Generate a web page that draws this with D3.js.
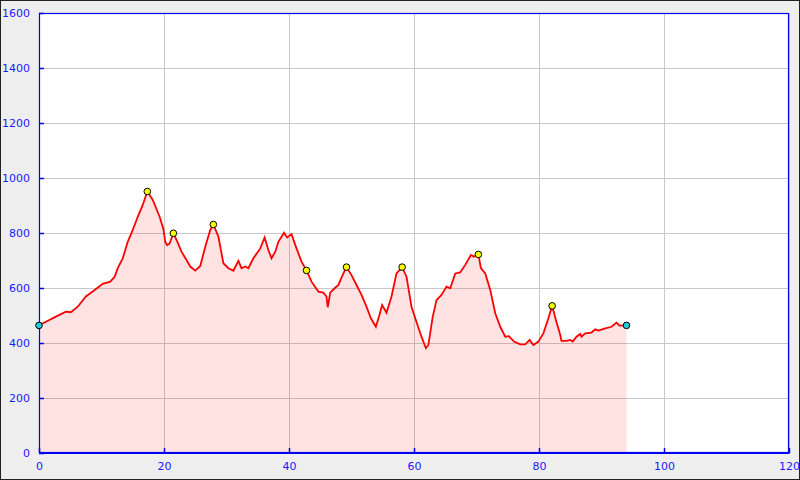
<!DOCTYPE html>
<html><head><meta charset="utf-8">
<script src="https://cdn.jsdelivr.net/npm/d3@7"></script>
<style>html,body{margin:0;padding:0;background:#eeeeee;}svg{display:block;}</style>
</head><body>
<svg id="c" width="800" height="480"></svg>
<script>
const distKm = [0,1.1,2.7,4.3,5.1,6.2,7.5,8.9,10.2,11.4,12.1,12.6,13.4,14.2,15.0,15.8,16.6,17.33,18.2,19.3,19.9,20.2,20.5,20.9,21.5,22.0,22.8,23.6,24.2,25.0,25.8,26.6,27.4,27.9,28.7,29.5,30.3,31.1,31.9,32.4,33.0,33.5,34.3,35.4,36.1,36.7,37.2,37.8,38.3,39.2,39.7,40.4,41.2,42.0,42.8,43.6,44.7,45.5,46.0,46.2,46.6,47.3,47.9,48.7,49.2,50.0,50.8,51.6,52.4,53.1,53.9,54.4,54.9,55.6,56.4,57.2,58.1,58.8,59.6,60.2,61.2,61.9,62.3,63.0,63.6,64.4,65.2,65.8,66.6,67.4,68.2,69.1,69.6,70.3,70.7,71.4,72.2,73.0,73.8,74.6,75.2,76.0,77.0,77.8,78.5,79.1,79.9,80.7,81.5,82.1,82.7,83.4,83.6,84.4,85.0,85.4,86.0,86.6,86.8,87.4,88.4,89.0,89.5,90.6,91.6,92.4,92.9,94.0];
const elevM = [464,477,496,514,512,532,569,593,615,623,641,672,708,768,811,859,902,951,920,859,815,768,756,762,799,775,732,702,678,663,680,750,811,831,787,690,672,663,699,672,678,672,708,744,784,738,708,732,768,801,784,796,744,696,664,623,587,583,569,530,583,599,611,653,676,647,611,575,532,490,459,496,538,510,569,653,676,641,532,490,423,381,393,496,556,575,605,599,653,657,684,720,714,722,672,653,593,508,459,423,425,405,395,395,411,393,405,435,490,535,484,429,408,408,411,405,423,433,423,435,438,450,445,453,459,474,463,464];
const summitKm = [17.33,21.5,27.9,42.8,49.2,58.1,70.3,82.1];
const summitM = [951,799,831,664,676,676,722,535];
const endKm = [0,94.0];
const endM = [464,464];
const xTicks = [0,20,40,60,80,100,120];
const yTicks = [0,200,400,600,800,1000,1200,1400,1600];

const svg = d3.select("#c");
const L=39,R=789,T=13,B=453;
svg.append("rect").attr("x",0.5).attr("y",0.5).attr("width",799).attr("height",479).attr("fill","#eeeeee").attr("stroke","#222").attr("stroke-width",1);
svg.append("rect").attr("x",L).attr("y",T).attr("width",R-L).attr("height",B-T).attr("fill","#ffffff");

const x = d3.scaleLinear().domain([0,120]).range([L,R]);
const y = d3.scaleLinear().domain([0,1600]).range([B,T]);

// grid
svg.append("g").selectAll("line").data(xTicks).join("line")
  .attr("x1",d=>Math.round(x(d))+0.5).attr("x2",d=>Math.round(x(d))+0.5).attr("y1",T).attr("y2",B)
  .attr("stroke","#c8c8c8").attr("stroke-width",1);
svg.append("g").selectAll("line").data(yTicks).join("line")
  .attr("y1",d=>Math.round(y(d))+0.5).attr("y2",d=>Math.round(y(d))+0.5).attr("x1",L).attr("x2",R)
  .attr("stroke","#c8c8c8").attr("stroke-width",1);

const pts = distKm.map((d,i)=>[d,elevM[i]]);
svg.append("path").datum(pts)
  .attr("d", d3.area().x(d=>x(d[0])).y0(y(0)).y1(d=>y(d[1])))
  .attr("fill","rgba(255,0,0,0.11)");
svg.append("path").datum(pts)
  .attr("d", d3.line().x(d=>x(d[0])).y(d=>y(d[1])))
  .attr("fill","none").attr("stroke","#ff0000").attr("stroke-width",1.8).attr("stroke-linejoin","miter");

// frame
svg.append("rect").attr("x",L+0.5).attr("y",T+0.5).attr("width",R-L-1).attr("height",B-T-1)
  .attr("fill","none").attr("stroke","#0000ee").attr("stroke-width",1.2);

// axes
const fmt = d3.format("d");
const ax = svg.append("g").attr("transform",`translate(0,${B})`)
  .call(d3.axisBottom(x).tickValues(xTicks).tickFormat(fmt).tickSizeInner(-5).tickSizeOuter(0).tickPadding(9));
const ay = svg.append("g").attr("transform",`translate(${L},0)`)
  .call(d3.axisLeft(y).tickValues(yTicks).tickFormat(fmt).tickSizeInner(-5).tickSizeOuter(0).tickPadding(9));
[ax,ay].forEach(g=>{
  g.select(".domain").attr("stroke","#0000ee");
  g.selectAll(".tick line").attr("stroke","#0000ee").attr("stroke-width",1.5);
  g.selectAll(".tick text").attr("fill","#1a1aff").attr("font-family","DejaVu Sans").attr("font-size",11);
});

// markers
svg.append("g").selectAll("circle").data(summitKm).join("circle")
  .attr("cx",d=>x(d)).attr("cy",(d,i)=>y(summitM[i])).attr("r",3.3)
  .attr("fill","#ffff00").attr("stroke","#000").attr("stroke-width",1);
svg.append("g").selectAll("circle").data(endKm).join("circle")
  .attr("cx",d=>x(d)).attr("cy",(d,i)=>y(endM[i])).attr("r",3.3)
  .attr("fill","#22ccdd").attr("stroke","#000").attr("stroke-width",1);
</script>
</body></html>
